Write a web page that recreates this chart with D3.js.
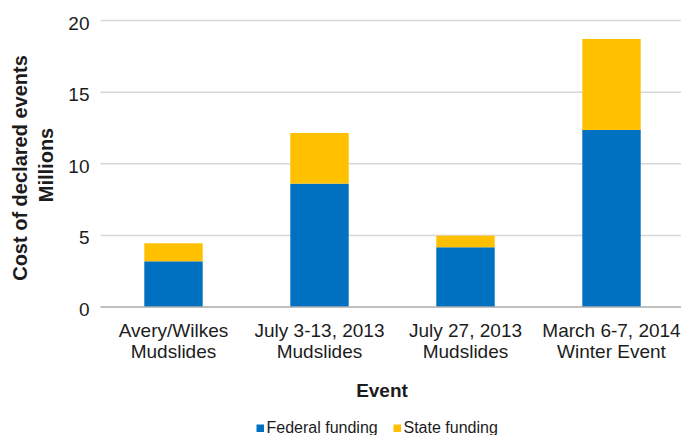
<!DOCTYPE html>
<html>
<head>
<meta charset="utf-8">
<script src="https://cdn.jsdelivr.net/npm/d3@7"></script>
<style>
  html, body { margin: 0; padding: 0; background: #fff; }
  svg { display: block; font-family: "Liberation Sans", Arial, sans-serif; }
</style>
</head>
<body>
<svg id="chart" width="681" height="435"></svg>
<script>
// Cost of declared events, in millions of dollars
const events = [
  ["Avery/Wilkes", "Mudslides"],
  ["July 3-13, 2013", "Mudslides"],
  ["July 27, 2013", "Mudslides"],
  ["March 6-7, 2014", "Winter Event"]
];
const federalFunding = [3.19, 8.61, 4.17, 12.36];
const stateFunding = [1.26, 3.54, 0.81, 6.35];
const seriesNames = ["Federal funding", "State funding"];
const seriesColors = ["#0070C0", "#FFC000"];
const yTicks = [0, 5, 10, 15, 20];

const svg = d3.select("#chart");
const textColor = "#1c1c1c";

const x = d3.scaleBand()
  .domain(d3.range(events.length))
  .range([100.5, 684.5])
  .paddingInner(0.6)
  .paddingOuter(0.3);

const y = d3.scaleLinear().domain([0, 20]).range([307, 20.5]);

// horizontal gridlines
svg.append("g")
  .selectAll("line")
  .data(yTicks.filter(t => t > 0))
  .join("line")
  .attr("x1", 100.5).attr("x2", 684)
  .attr("y1", d => y(d)).attr("y2", d => y(d))
  .attr("stroke", "#d6d6d6")
  .attr("stroke-width", 1.5);

// y tick labels
svg.append("g")
  .selectAll("text")
  .data(yTicks)
  .join("text")
  .attr("x", 89.5)
  .attr("y", d => y(d) + 9)
  .attr("text-anchor", "end")
  .attr("font-size", 19)
  .attr("fill", textColor)
  .text(d => d);

// stacked bars
const stackData = events.map((e, i) => ({ i, federal: federalFunding[i], state: stateFunding[i] }));
const stacked = d3.stack().keys(["federal", "state"])(stackData);

svg.append("g")
  .selectAll("g")
  .data(stacked)
  .join("g")
  .attr("fill", (d, k) => seriesColors[k])
  .selectAll("rect")
  .data(d => d)
  .join("rect")
  .attr("x", d => x(d.data.i))
  .attr("width", x.bandwidth())
  .attr("y", d => y(d[1]))
  .attr("height", d => y(d[0]) - y(d[1]));

// baseline axis
svg.append("line")
  .attr("x1", 100.5).attr("x2", 684)
  .attr("y1", y(0)).attr("y2", y(0))
  .attr("stroke", "#ababab")
  .attr("stroke-width", 1.6);

// category labels, two lines each
const cat = svg.append("g")
  .selectAll("text")
  .data(events)
  .join("text")
  .attr("text-anchor", "middle")
  .attr("font-size", 19)
  .attr("fill", textColor);
cat.each(function (lines, i) {
  const cx = x(i) + x.bandwidth() / 2;
  d3.select(this).selectAll("tspan")
    .data(lines)
    .join("tspan")
    .attr("x", cx)
    .attr("y", (d, j) => 337.3 + j * 21)
    .text(d => d);
});

// x axis title
svg.append("text")
  .attr("x", 382)
  .attr("y", 396.7)
  .attr("text-anchor", "middle")
  .attr("font-size", 19)
  .attr("font-weight", "bold")
  .attr("fill", textColor)
  .text("Event");

// y axis title
const yTitle = [["Cost of declared events", 26.7, 168], ["Millions", 52.7, 165]];
svg.append("g")
  .selectAll("text")
  .data(yTitle)
  .join("text")
  .attr("transform", d => `translate(${d[1]},${d[2]}) rotate(-90)`)
  .attr("text-anchor", "middle")
  .attr("font-size", 20)
  .attr("font-weight", "bold")
  .attr("fill", textColor)
  .text(d => d[0]);

// legend
const legendX = [256.5, 393.5];
const legend = svg.append("g")
  .selectAll("g")
  .data(seriesNames)
  .join("g")
  .attr("transform", (d, i) => `translate(${legendX[i]},0)`);
legend.append("rect")
  .attr("x", 0).attr("y", 424.5)
  .attr("width", 7.5).attr("height", 7.5)
  .attr("fill", (d, i) => seriesColors[i]);
legend.append("text")
  .attr("x", 10)
  .attr("y", 433)
  .attr("font-size", 16)
  .attr("fill", textColor)
  .text(d => d);
</script>
</body>
</html>
